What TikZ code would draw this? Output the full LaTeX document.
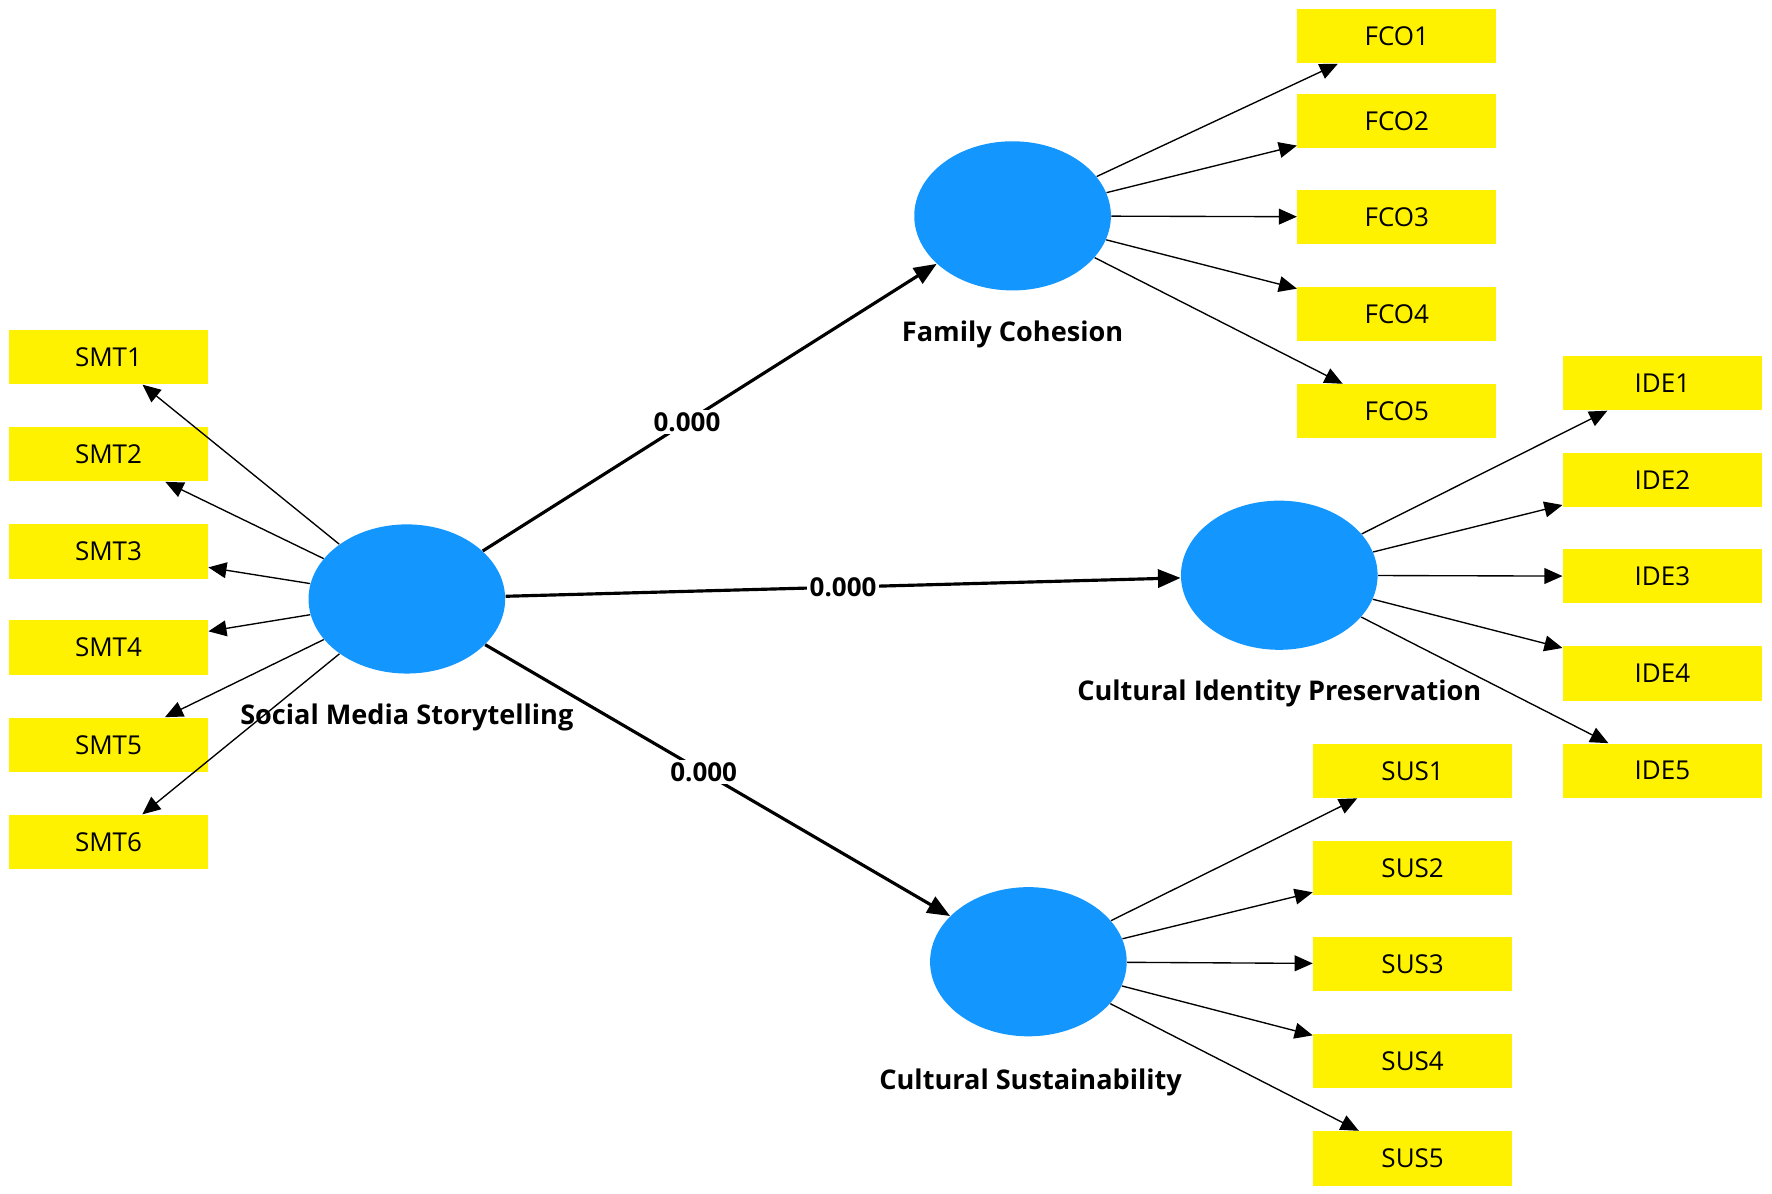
\documentclass[tikz,border=0pt]{standalone}
\usepackage{fontspec}
\setmainfont{Open Sans}
\usetikzlibrary{arrows.meta,shapes.geometric}
\begin{document}
\begin{tikzpicture}[x=0.5pt,y=-0.5pt,
 ind/.style={fill=yellow,minimum width=88pt,minimum height=24pt,inner sep=0pt,font=\fontsize{11.5}{12}\selectfont},
 lat/.style={ellipse,fill={rgb,255:red,20;green,150;blue,255},minimum width=87pt,minimum height=66pt,inner sep=0pt},
 lab/.style={font=\bfseries\fontsize{12}{13}\selectfont},
 ia/.style={-{Triangle[length=8pt,width=7pt]},line width=0.6pt},
 pa/.style={-{Triangle[length=10pt,width=8pt]},line width=1.4pt},
 pl/.style={fill=white,inner sep=1pt,font=\bfseries\fontsize{11.5}{12}\selectfont}]
\useasboundingbox (0,0) rectangle (1568,1056);
\node[lat] (S) at (360,530) {};
\node[lat] (F) at (896,191) {};
\node[lat] (C) at (1132,509) {};
\node[lat] (U) at (910,851) {};
\foreach \i/\y in {1/316,2/402,3/488,4/573,5/659,6/745}{\node[ind] (SMT\i) at (96,\y) {SMT\i};}
\foreach \i/\y in {1/32,2/107,3/192,4/278,5/364}{\node[ind] (FCO\i) at (1236,\y) {FCO\i};}
\foreach \i/\y in {1/339,2/425,3/510,4/596,5/682}{\node[ind] (IDE\i) at (1471,\y) {IDE\i};}
\foreach \i/\y in {1/682,2/768,3/853,4/939,5/1025}{\node[ind] (SUS\i) at (1250,\y) {SUS\i};}
\foreach \i in {1,...,6}{\draw[ia] (S) -- (SMT\i);}
\foreach \i in {1,...,5}{\draw[ia] (F) -- (FCO\i); \draw[ia] (C) -- (IDE\i); \draw[ia] (U) -- (SUS\i);}
\draw[pa] (S) -- node[pl,pos=0.45]{0.000} (F);
\draw[pa] (S) -- node[pl,pos=0.5]{0.000} (C);
\draw[pa] (S) -- node[pl,pos=0.47]{0.000} (U);
\node[lab] (lS) at (360,635) {Social Media Storytelling};
\node[lab] (lF) at (896,296) {Family Cohesion};
\node[lab] (lC) at (1132,614) {Cultural Identity Preservation};
\node[lab] (lU) at (912,958) {Cultural Sustainability};
\end{tikzpicture}
\end{document}
